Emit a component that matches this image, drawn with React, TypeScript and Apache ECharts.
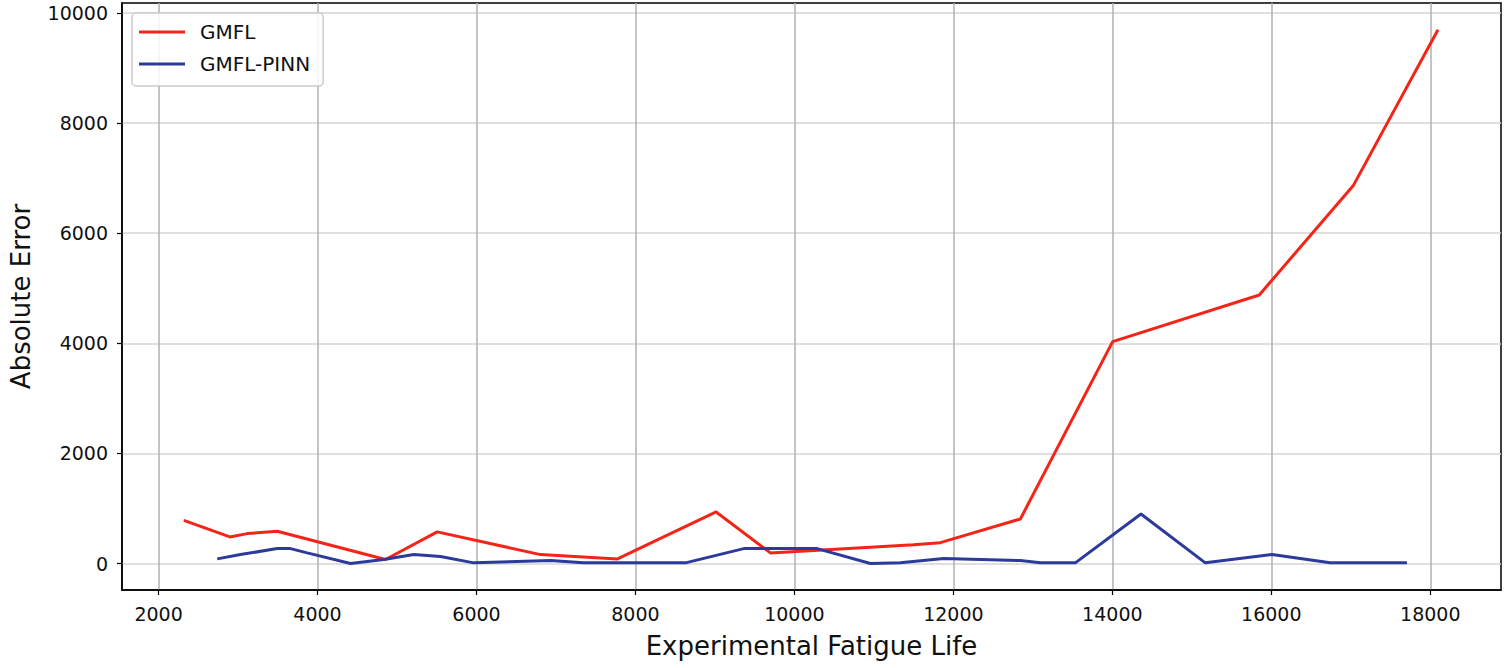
import React, { useEffect, useRef } from "react";
import * as echarts from "echarts";

const gmflX = [2318, 2897, 3116, 3493, 4855, 5506, 6805, 7774, 9015, 9698, 10300, 10900, 11500, 11836, 12843, 14004, 15849, 17035, 18097];
const gmflY = [785, 484, 544, 586, 73, 575, 163, 85, 937, 194, 240, 290, 340, 380, 810, 4031, 4878, 6872, 9695];

const pinnX = [2738, 3031, 3493, 3660, 3870, 4415, 4834, 5211, 5547, 5966, 6931, 7346, 8629, 9362, 10286, 10956, 11333, 11878, 12843, 13094, 13534, 14360, 15170, 16009, 16742, 17706];
const pinnY = [85, 163, 272, 272, 194, 0, 73, 163, 127, 13, 54, 13, 13, 272, 272, 0, 13, 91, 54, 13, 13, 901, 13, 163, 13, 13];

const xTicks = [2000, 4000, 6000, 8000, 10000, 12000, 14000, 16000, 18000];
const yTicks = [0, 2000, 4000, 6000, 8000, 10000];

const FONT = "DejaVu Sans";
const RED = "#f52418";
const BLUE = "#2c3a9c";

export default function App() {
  const ref = useRef<HTMLDivElement>(null);
  useEffect(() => {
    const chart = echarts.init(ref.current!, null, { renderer: "svg" });
    chart.setOption({
      animation: false,
      backgroundColor: "#ffffff",
      textStyle: { fontFamily: FONT },
      grid: {
        left: 122,
        right: 4,
        top: 3,
        bottom: 78,
        show: true,
        borderColor: "#000",
        borderWidth: 1.5,
        containLabel: false,
      },
      legend: {
        orient: "vertical",
        left: 132,
        top: 13,
        padding: [9, 13, 12, 7],
        icon: "rect",
        itemWidth: 46,
        itemHeight: 3,
        itemGap: 12,
        borderColor: "#cccccc",
        borderWidth: 1.5,
        borderRadius: 4,
        backgroundColor: "rgba(255,255,255,0.85)",
        textStyle: { fontSize: 20, lineHeight: 20, height: 20, color: "#111", fontFamily: FONT, padding: [0, 0, 0, 10] },
        data: ["GMFL", "GMFL-PINN"],
      },
      xAxis: {
        type: "value",
        min: 1540,
        max: 18890,
        name: "Experimental Fatigue Life",
        nameLocation: "middle",
        nameGap: 43,
        nameTextStyle: { fontSize: 26, color: "#111", fontFamily: FONT },
        axisLine: { show: true, onZero: false, lineStyle: { color: "#000", width: 1.5 } },
        axisTick: { show: true, length: 5, lineStyle: { color: "#000", width: 1.2 }, customValues: xTicks },
        axisLabel: { fontSize: 19, color: "#111", margin: 14, fontFamily: FONT, customValues: xTicks, formatter: (v: number) => String(v) },
        splitLine: { show: true, lineStyle: { color: "#b0b0b0", width: 1.5 } },
        splitNumber: 9,
      },
      yAxis: {
        type: "value",
        min: -480,
        max: 10180,
        name: "Absolute Error",
        nameLocation: "middle",
        nameGap: 88,
        nameTextStyle: { fontSize: 26, color: "#111", fontFamily: FONT },
        axisLine: { show: true, onZero: false, lineStyle: { color: "#000", width: 1.5 } },
        axisTick: { show: true, length: 5, lineStyle: { color: "#000", width: 1.2 }, customValues: yTicks },
        axisLabel: { fontSize: 19, color: "#111", margin: 14, fontFamily: FONT, customValues: yTicks, formatter: (v: number) => String(v) },
        splitLine: { show: true, lineStyle: { color: "#d4d4d4", width: 1.5 } },
        splitNumber: 5,
      },
      series: [
        {
          name: "GMFL",
          type: "line",
          symbol: "none",
          lineStyle: { color: RED, width: 3 },
          itemStyle: { color: RED },
          data: gmflX.map((x, i) => [x, gmflY[i]]),
        },
        {
          name: "GMFL-PINN",
          type: "line",
          symbol: "none",
          lineStyle: { color: BLUE, width: 3 },
          itemStyle: { color: BLUE },
          data: pinnX.map((x, i) => [x, pinnY[i]]),
        },
      ],
    });
    return () => chart.dispose();
  }, []);
  return <div ref={ref} style={{ position: "fixed", left: 0, top: 0, width: 1505, height: 668 }} />;
}
